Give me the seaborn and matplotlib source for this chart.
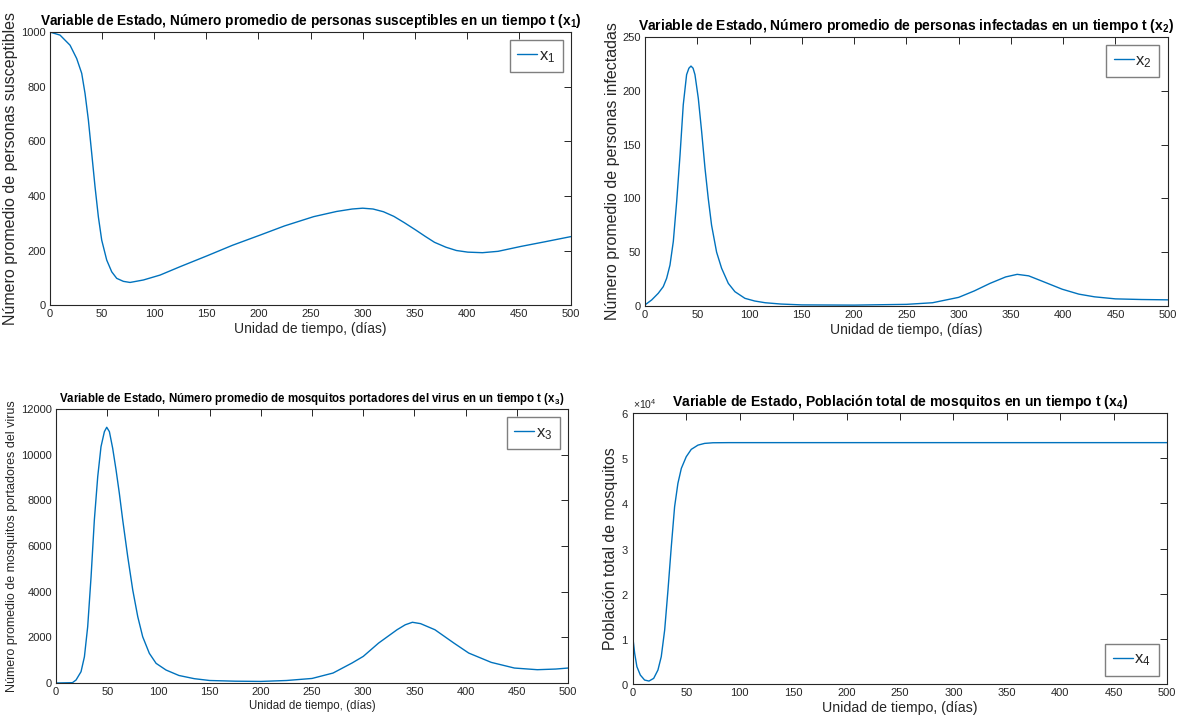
import numpy as np
import pandas as pd
import matplotlib
matplotlib.use("Agg")
import matplotlib.pyplot as plt
import seaborn as sns
from matplotlib.ticker import ScalarFormatter

# ---------------- data ----------------
t1 = [0, 9.6, 19.2, 25.6, 30.4, 33.6, 36.8, 40, 43.2, 46.4, 49.6, 54.4, 59.2, 64,
      70.4, 76.8, 89.6, 105.6, 125, 151, 175, 202, 225, 253, 275, 290, 300, 310,
      320, 330, 340, 351, 360, 369, 380, 390, 401, 415, 430, 452, 475, 500]
x1 = [1000, 989, 952, 903, 849, 775, 678, 556, 433, 323, 238, 165, 122, 98, 87,
      83, 92, 110, 141, 181, 219, 257, 290, 324, 343, 352, 355, 352, 342, 325,
      302, 275, 252, 230, 212, 200, 194, 192, 197, 215, 232, 251]

t2 = [0, 6.4, 12.7, 17.5, 20.7, 23.9, 27.1, 30.3, 33.5, 36.6, 39.8, 42, 44, 46,
      47.8, 51, 54.2, 57.4, 60.5, 63.7, 68.5, 73.3, 79.7, 86, 95.6, 105, 115, 130,
      150, 200, 250, 275, 300, 315, 330, 345, 356, 367, 380, 399, 415, 430, 450,
      475, 500]
x2 = [1, 5.6, 11.8, 18, 25.7, 38, 60, 97, 140, 187, 215, 221, 223, 221, 215, 193,
      162, 128, 100, 75, 50, 35, 21, 13.3, 7.1, 4.6, 3, 1.8, 1, 0.8, 1.5, 3, 8,
      14, 21, 27, 29.4, 28, 23, 15.6, 11, 8.5, 6.6, 6, 5.7]

t3 = [0, 16, 19.5, 24.4, 27.7, 30.9, 34.2, 37.4, 40.7, 43.9, 47.2, 49.5, 52.1,
      55.3, 58.6, 61.8, 65.1, 70, 74.9, 79.8, 84.6, 91.1, 97.7, 107.4, 120, 135,
      150, 175, 200, 225, 250, 270.5, 289, 300, 315, 333, 341, 348, 356, 370,
      388.5, 403, 425, 447.6, 470, 488, 500]
x3 = [0, 15, 131, 496, 1150, 2467, 4656, 7140, 9037, 10350, 11007, 11200, 11007,
      10280, 9330, 8309, 7140, 5532, 4073, 2904, 2028, 1300, 861, 569, 330, 190,
      110, 80, 70, 110, 200, 437, 875, 1166, 1750, 2333, 2550, 2660, 2600, 2333,
      1750, 1312, 904, 656, 583, 612, 656]

t4 = [0, 1.6, 3.7, 6.9, 10.9, 15, 19.4, 23.4, 26.5, 29.7, 32.8, 35.9, 39, 42.1,
      45.3, 49.9, 54.6, 60.9, 67.1, 74.9, 90, 150, 250, 350, 450, 500]
x4 = [10110, 6790, 3840, 1990, 885, 660, 1250, 3100, 6050, 11950, 20800, 30400,
      39250, 44430, 47750, 50330, 51960, 52900, 53280, 53420, 53450, 53450, 53450,
      53450, 53450, 53450]

titles = [
    r"Variable de Estado, Número promedio de personas susceptibles en un tiempo t (x$_\mathbf{1}$)",
    r"Variable de Estado, Número promedio de personas infectadas en un tiempo t (x$_\mathbf{2}$)",
    r"Variable de Estado, Número promedio de mosquitos portadores del virus en un tiempo t (x$_\mathbf{3}$)",
    r"Variable de Estado, Población total de mosquitos en un tiempo t (x$_\mathbf{4}$)",
]
ylabels = [
    "Número promedio de personas susceptibles",
    "Número promedio de personas infectadas",
    "Número promedio de mosquitos portadores del virus",
    "Población total de mosquitos",
]
xlabel = "Unidad de tiempo, (días)"
legend_labels = [r"x$_1$", r"x$_2$", r"x$_3$", r"x$_4$"]
yticks = [np.arange(0, 1001, 200), np.arange(0, 251, 50),
          np.arange(0, 12001, 2000), np.arange(0, 60001, 10000)]
xticks = np.arange(0, 501, 50)

# ---------------- style ----------------
sns.set_style("white")
plt.rcParams["font.family"] = ["Liberation Sans", "DejaVu Sans"]
plt.rcParams["mathtext.fontset"] = "custom"
plt.rcParams["mathtext.rm"] = "Liberation Sans"
plt.rcParams["mathtext.it"] = "Liberation Sans"
plt.rcParams["mathtext.bf"] = "Liberation Sans:bold"

LINE = "#0072BD"
AXC = "#262626"

fig = plt.figure(figsize=(11.8, 7.23), dpi=100)
positions = [
    [0.0424, 0.578, 0.4415, 0.3776],
    [0.5466, 0.5768, 0.443, 0.372],
    [0.0475, 0.0553, 0.4339, 0.379],
    [0.5364, 0.0539, 0.4525, 0.3748],
]
series = [(t1, x1), (t2, x2), (t3, x3), (t4, x4)]
title_sizes = [9.85, 10.0, 8.3, 10.1]
ylabel_sizes = [11.5, 11.5, 9.0, 11.4]
xlabel_sizes = [10.0, 10.0, 8.3, 10.2]
legend_locs = ["upper right", "upper right", "upper right", "lower right"]

for i in range(4):
    ax = fig.add_axes(positions[i])
    df = pd.DataFrame({"t": series[i][0], "v": series[i][1]})
    sns.lineplot(data=df, x="t", y="v", ax=ax, color=LINE, linewidth=1.0,
                 label=legend_labels[i], sort=False)
    ax.set_xlim(0, 500)
    ax.set_ylim(yticks[i][0], yticks[i][-1])
    ax.set_xticks(xticks)
    ax.set_yticks(yticks[i])
    ax.tick_params(direction="in", length=5, width=0.7, top=True, right=True,
                   labelsize=8, colors=AXC, labelcolor=AXC, pad=3)
    for s in ax.spines.values():
        s.set_color(AXC)
        s.set_linewidth(0.8)
        s.set_visible(True)
    ax.set_title(titles[i], fontsize=title_sizes[i], fontweight="bold",
                 color="black", pad=5)
    ax.set_xlabel(xlabel, fontsize=xlabel_sizes[i], color=AXC, labelpad=2)
    ax.set_ylabel(ylabels[i], fontsize=ylabel_sizes[i], color=AXC, labelpad=2)
    if i == 3:
        fmt = ScalarFormatter(useMathText=True)
        fmt.set_powerlimits((4, 4))
        ax.yaxis.set_major_formatter(fmt)
        ax.yaxis.get_offset_text().set_fontsize(7.5)
        ax.yaxis.get_offset_text().set_color(AXC)
    leg = ax.legend(loc=legend_locs[i], fontsize=12, frameon=True, fancybox=False,
                    edgecolor="#7f7f7f", framealpha=1, handlelength=1.2,
                    handletextpad=0.1, borderpad=0.45, borderaxespad=0.5)
    leg.get_frame().set_linewidth(1.0)

fig.savefig("out.png", dpi=100)
